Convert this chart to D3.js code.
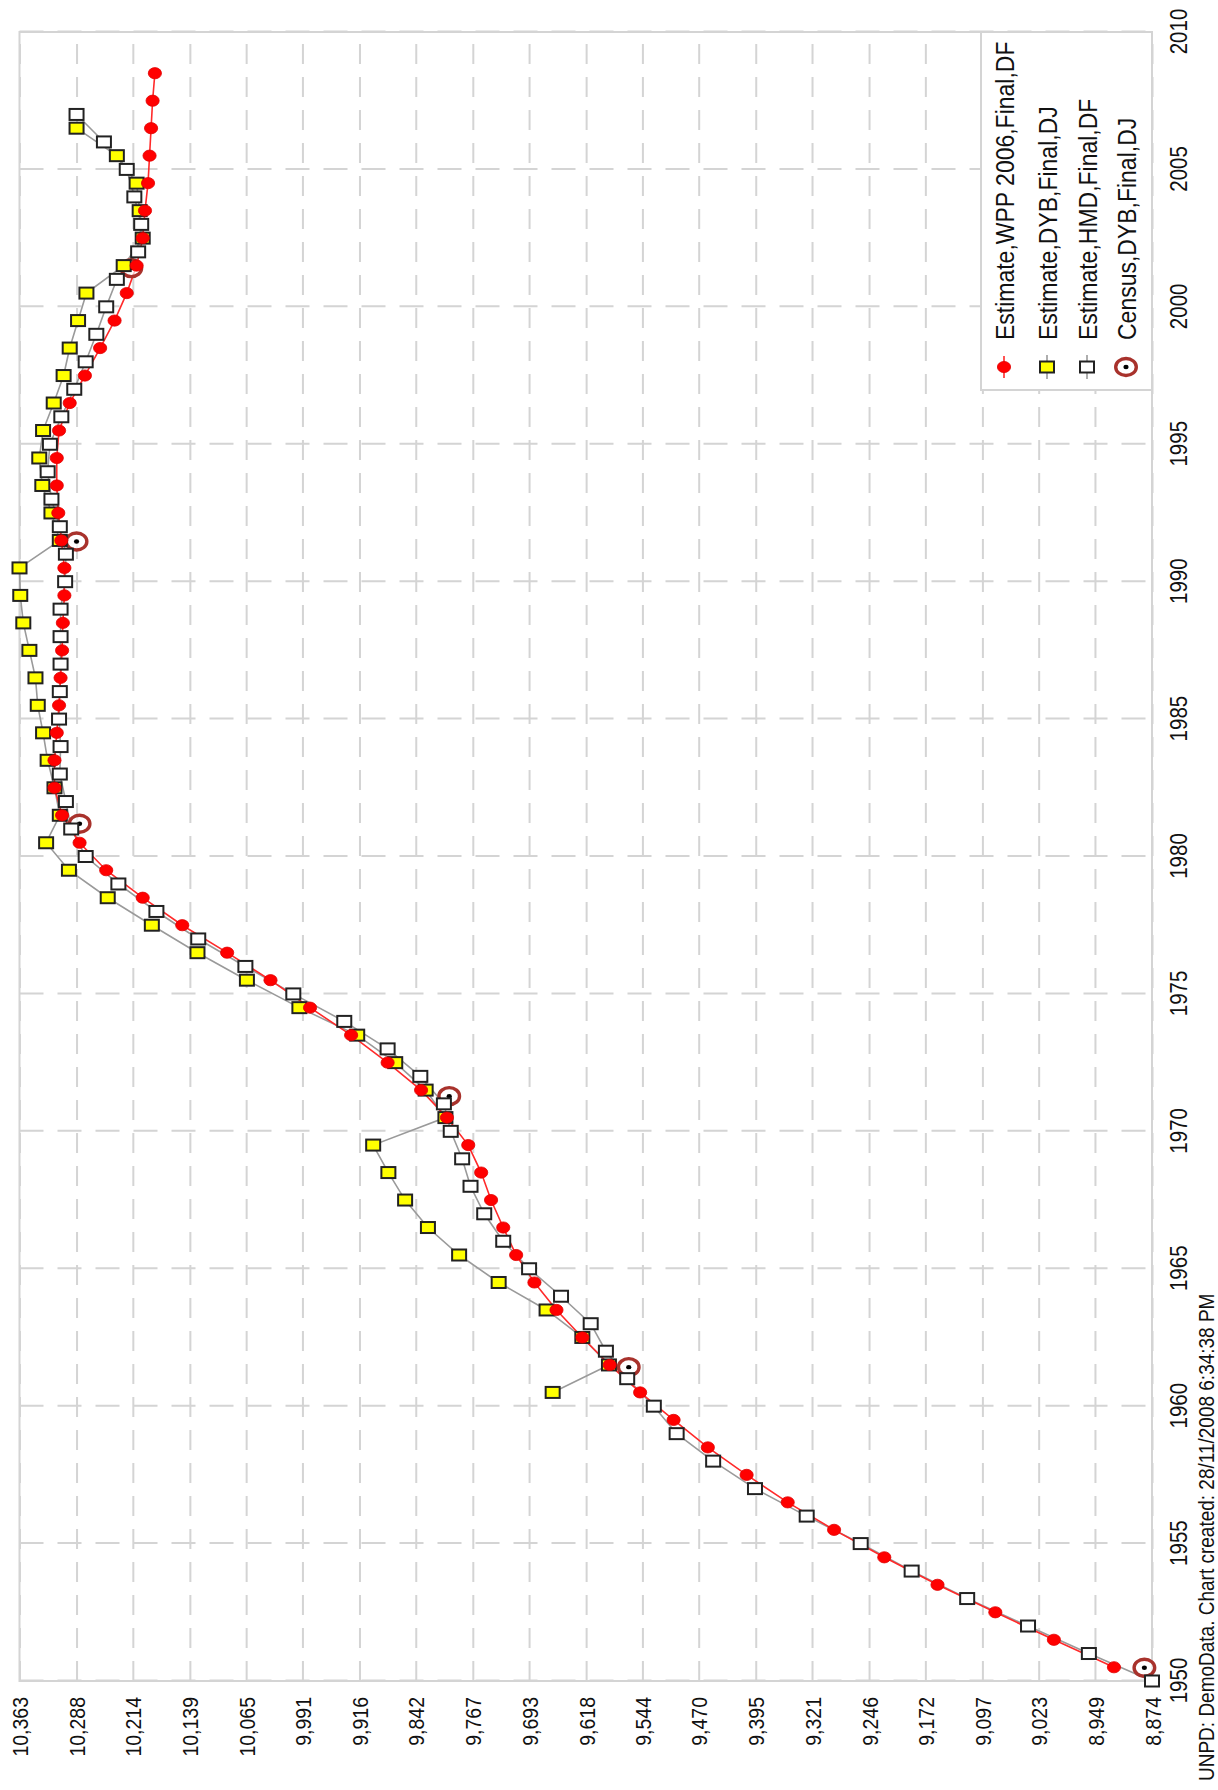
<!DOCTYPE html>
<html>
<head>
<meta charset="utf-8">
<script src="https://cdn.jsdelivr.net/npm/d3@7/dist/d3.min.js"></script>
<style>
  html, body { margin: 0; padding: 0; background: #fff; }
  svg { display: block; }
  text { font-family: "Liberation Sans", Arial, sans-serif; fill: #111; }
</style>
</head>
<body>
<svg id="chart" width="1218" height="1790"></svg>
<script>
// ---- data (thousands of persons) ----
// Estimate, WPP 2006 (mid-year)
const wpp = [
  [1950.5, 8924], [1951.5, 9003], [1952.5, 9080], [1953.5, 9156], [1954.5, 9226],
  [1955.5, 9292], [1956.5, 9353], [1957.5, 9407], [1958.5, 9458], [1959.5, 9503],
  [1960.5, 9547], [1961.5, 9587], [1962.5, 9623], [1963.5, 9657], [1964.5, 9686],
  [1965.5, 9710], [1966.5, 9727], [1967.5, 9743], [1968.5, 9756], [1969.5, 9773],
  [1970.5, 9801], [1971.5, 9835], [1972.5, 9879], [1973.5, 9927], [1974.5, 9981],
  [1975.5, 10033], [1976.5, 10090], [1977.5, 10149], [1978.5, 10201], [1979.5, 10249],
  [1980.5, 10284], [1981.5, 10307], [1982.5, 10317], [1983.5, 10317], [1984.5, 10314],
  [1985.5, 10311], [1986.5, 10309], [1987.5, 10307], [1988.5, 10306], [1989.5, 10304],
  [1990.5, 10304], [1991.5, 10308], [1992.5, 10312], [1993.5, 10314], [1994.5, 10314],
  [1995.5, 10311], [1996.5, 10297], [1997.5, 10277], [1998.5, 10257], [1999.5, 10238],
  [2000.5, 10222], [2001.5, 10209], [2002.5, 10201], [2003.5, 10198], [2004.5, 10194],
  [2005.5, 10192], [2006.5, 10190], [2007.5, 10188], [2008.5, 10185]
];
// Estimate, DYB (mid-year)
const dyb = [
  [1960.5, 9662], [1961.5, 9588], [1962.5, 9623], [1963.5, 9670], [1964.5, 9733],
  [1965.5, 9785], [1966.5, 9826], [1967.5, 9856], [1968.5, 9878], [1969.5, 9898],
  [1970.5, 9803], [1971.5, 9829], [1972.5, 9869], [1973.5, 9919], [1974.5, 9995],
  [1975.5, 10064], [1976.5, 10129], [1977.5, 10189], [1978.5, 10247], [1979.5, 10298],
  [1980.5, 10328], [1981.5, 10310], [1982.5, 10317], [1983.5, 10326], [1984.5, 10332],
  [1985.5, 10339], [1986.5, 10342], [1987.5, 10350], [1988.5, 10358], [1989.5, 10362],
  [1990.5, 10363], [1991.5, 10310], [1992.5, 10321], [1993.5, 10333], [1994.5, 10337],
  [1995.5, 10332], [1996.5, 10318], [1997.5, 10305], [1998.5, 10297], [1999.5, 10286],
  [2000.5, 10275], [2001.5, 10226], [2002.5, 10201], [2003.5, 10205], [2004.5, 10209],
  [2005.5, 10235], [2006.5, 10288]
];
// Estimate, HMD (1 January)
const hmd = [
  [1950, 8874], [1951, 8957], [1952, 9037], [1953, 9117], [1954, 9190],
  [1955, 9257], [1956, 9328], [1957, 9396], [1958, 9451], [1959, 9499],
  [1960, 9529], [1961, 9564], [1962, 9592], [1963, 9612], [1964, 9651],
  [1965, 9693], [1966, 9727], [1967, 9752], [1968, 9770], [1969, 9781],
  [1970, 9796], [1971, 9805], [1972, 9836], [1973, 9879], [1974, 9936],
  [1975, 10003], [1976, 10066], [1977, 10128], [1978, 10183], [1979, 10233],
  [1980, 10276], [1981, 10295], [1982, 10302], [1983, 10310], [1984, 10309],
  [1985, 10311], [1986, 10310], [1987, 10309], [1988, 10309], [1989, 10309],
  [1990, 10303], [1991, 10302], [1992, 10310], [1993, 10321], [1994, 10326],
  [1995, 10323], [1996, 10308], [1997, 10291], [1998, 10276], [1999, 10262],
  [2000, 10249], [2001, 10235], [2002, 10207], [2003, 10203], [2004, 10212],
  [2005, 10222], [2006, 10252], [2007, 10288]
];
// Census, DYB
const census = [
  [1950.48, 8884], [1961.42, 9562], [1971.28, 9798], [1981.19, 10284],
  [1991.46, 10288], [2001.41, 10216]
];

const yearTicks = [1950, 1955, 1960, 1965, 1970, 1975, 1980, 1985, 1990, 1995, 2000, 2005, 2010];
const valueTicks = [10363, 10288, 10214, 10139, 10065, 9991, 9916, 9842, 9767, 9693, 9618,
                    9544, 9470, 9395, 9321, 9246, 9172, 9097, 9023, 8949, 8874];
const valueLabels = ["10,363", "10,288", "10,214", "10,139", "10,065", "9,991", "9,916", "9,842",
                     "9,767", "9,693", "9,618", "9,544", "9,470", "9,395", "9,321", "9,246",
                     "9,172", "9,097", "9,023", "8,949", "8,874"];
const seriesNames = ["Estimate,WPP 2006,Final,DF", "Estimate,DYB,Final,DJ",
                     "Estimate,HMD,Final,DF", "Census,DYB,Final,DJ"];
const footer = "UNPD: DemoData. Chart created: 28/11/2008 6:34:38 PM";

// ---- layout ----
const W = 1218, H = 1790;
const STRETCH = 1.15;          // glyphs are drawn slightly taller than wide
const svg = d3.select("#chart");
svg.append("rect").attr("width", W).attr("height", H).attr("fill", "#fff");

// The chart is laid out in landscape coordinates (years left→right,
// values bottom→top) and turned a quarter-turn counter-clockwise.
const g = svg.append("g").attr("transform", `translate(0,${H}) rotate(-90)`);
const plot = { left: 109, right: 1758, top: 19.5, bottom: 1152 };

const x = d3.scaleLinear().domain([1950, 2010]).range([plot.left, plot.right]);
const y = d3.scaleLinear().domain([8874, 10363]).range([plot.bottom, plot.top]);

const gridColor = "#d4d4d4";

// value grid + labels
const yAxis = d3.axisLeft(y)
  .tickValues(valueTicks)
  .tickSize(-(plot.right - plot.left))
  .tickFormat((d, i) => valueLabels[i]);
const yg = g.append("g").attr("transform", `translate(${plot.left},0)`).call(yAxis);
yg.select(".domain").remove();
yg.selectAll(".tick line")
  .attr("stroke", gridColor).attr("stroke-width", 2).attr("stroke-dasharray", "20,13");
yg.selectAll(".tick text")
  .attr("x", null).attr("dy", "0.36em")
  .attr("text-anchor", "end")
  .attr("transform", `translate(-16,0) scale(1,${STRETCH})`)
  .style("font-size", "19.5px").style("font-family", null).attr("fill", "#111");

// year grid + labels
const xAxis = d3.axisTop(x)
  .tickValues(yearTicks)
  .tickSize(-(plot.bottom - plot.top))
  .tickFormat(d3.format("d"));
const xg = g.append("g").attr("transform", `translate(0,${plot.top})`).call(xAxis);
xg.select(".domain").remove();
xg.selectAll(".tick line")
  .attr("stroke", gridColor).attr("stroke-width", 2).attr("stroke-dasharray", "24,14");
xg.selectAll(".tick text")
  .attr("y", null).attr("dy", "0.36em")
  .attr("text-anchor", "middle")
  .attr("transform", `translate(0,${plot.bottom - plot.top + 27}) scale(1,${STRETCH})`)
  .style("font-size", "20.5px").style("font-family", null).attr("fill", "#111");

// plot frame
g.append("rect")
  .attr("x", plot.left).attr("y", plot.top)
  .attr("width", plot.right - plot.left).attr("height", plot.bottom - plot.top)
  .attr("fill", "none").attr("stroke", gridColor).attr("stroke-width", 2);

// ---- series ----
const line = d3.line().x(d => x(d[0])).y(d => y(d[1]));

g.append("path").datum(hmd).attr("d", line)
  .attr("fill", "none").attr("stroke", "#9a9a9a").attr("stroke-width", 1.6);
g.append("path").datum(dyb).attr("d", line)
  .attr("fill", "none").attr("stroke", "#9a9a9a").attr("stroke-width", 1.6);
g.append("path").datum(wpp).attr("d", line)
  .attr("fill", "none").attr("stroke", "#ff2a2a").attr("stroke-width", 1.6);

function censusMark(sel) {
  sel.append("ellipse").attr("rx", 8.5).attr("ry", 10.3)
    .attr("fill", "#fff").attr("fill-opacity", 0.7)
    .attr("stroke", "#a8322c").attr("stroke-width", 3.4);
  sel.append("ellipse").attr("rx", 2.2).attr("ry", 2.6).attr("fill", "#000");
}
function squareMark(sel, fill) {
  sel.append("rect").attr("x", -5.5).attr("y", -7).attr("width", 11).attr("height", 14)
    .attr("fill", fill).attr("stroke", "#222").attr("stroke-width", 2);
}
function dotMark(sel) {
  sel.append("ellipse").attr("rx", 5.6).attr("ry", 6.6)
    .attr("fill", "#ff0000").attr("stroke", "#e00000").attr("stroke-width", 0.8);
}

g.append("g").selectAll("g").data(census).join("g")
  .attr("transform", d => `translate(${x(d[0])},${y(d[1])})`)
  .call(censusMark);
g.append("g").selectAll("g").data(hmd).join("g")
  .attr("transform", d => `translate(${x(d[0])},${y(d[1])})`)
  .call(s => squareMark(s, "#fff"));
g.append("g").selectAll("g").data(dyb).join("g")
  .attr("transform", d => `translate(${x(d[0])},${y(d[1])})`)
  .call(s => squareMark(s, "#ffff00"));
g.append("g").selectAll("g").data(wpp).join("g")
  .attr("transform", d => `translate(${x(d[0])},${y(d[1])})`)
  .call(dotMark);

// ---- legend (lower-right corner of the plot) ----
const leg = { x: 1400, y: 981, w: plot.right - 1400, h: plot.bottom - 981 };
g.append("rect").attr("x", leg.x).attr("y", leg.y).attr("width", leg.w).attr("height", leg.h)
  .attr("fill", "#fff").attr("stroke", gridColor).attr("stroke-width", 2);
const rowY = [1004, 1047, 1087, 1126];
const symX = 1423, txtX = 1450;
seriesNames.forEach((name, i) => {
  const row = g.append("g").attr("transform", `translate(${symX},${rowY[i]})`);
  if (i === 0) {
    row.append("line").attr("x1", -11).attr("x2", 11).attr("stroke", "#ff2a2a").attr("stroke-width", 1.6);
    dotMark(row);
  } else if (i === 1) {
    row.append("line").attr("x1", -12).attr("x2", 12).attr("stroke", "#9a9a9a").attr("stroke-width", 1.6);
    squareMark(row, "#ffff00");
  } else if (i === 2) {
    row.append("line").attr("x1", -12).attr("x2", 12).attr("stroke", "#9a9a9a").attr("stroke-width", 1.6);
    squareMark(row, "#fff");
  } else {
    censusMark(row);
  }
  g.append("text")
    .attr("transform", `translate(${txtX},${rowY[i]}) scale(1,${STRETCH})`)
    .attr("dy", "0.36em")
    .style("font-size", "23px")
    .text(name);
});

// ---- source line ----
g.append("text")
  .attr("transform", `translate(9,1206) scale(1,${STRETCH})`)
  .attr("dy", "0.36em")
  .style("font-size", "19px")
  .text(footer);
</script>
</body>
</html>
